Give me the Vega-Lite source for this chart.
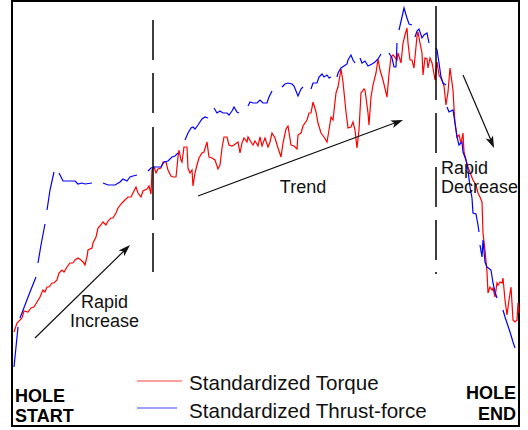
{
  "$schema": "https://vega.github.io/schema/vega-lite/v6.json",
  "width": 507,
  "height": 425,
  "autosize": {"type": "none"},
  "padding": {"left": 12, "top": 1, "right": 9, "bottom": 4},
  "background": "white",
  "config": {"view": {"stroke": "#000", "strokeWidth": 2}, "axis": {"disable": true}},
  "data": {"values": [
    {"s":"torque","g":0,"x":2,"y":94},{"s":"torque","g":0,"x":5,"y":103},{"s":"torque","g":0,"x":10,"y":108},{"s":"torque","g":0,"x":12,"y":115},{"s":"torque","g":0,"x":16,"y":114},{"s":"torque","g":0,"x":19,"y":118},{"s":"torque","g":0,"x":22,"y":119},{"s":"torque","g":0,"x":25,"y":124},{"s":"torque","g":0,"x":28,"y":129},{"s":"torque","g":0,"x":31,"y":136},{"s":"torque","g":0,"x":33,"y":134},{"s":"torque","g":0,"x":35,"y":139},{"s":"torque","g":0,"x":37,"y":139},{"s":"torque","g":0,"x":40,"y":143},{"s":"torque","g":0,"x":42,"y":143},{"s":"torque","g":0,"x":45,"y":146},{"s":"torque","g":0,"x":47,"y":153},{"s":"torque","g":0,"x":50,"y":156},{"s":"torque","g":0,"x":52,"y":154},{"s":"torque","g":0,"x":55,"y":159},{"s":"torque","g":0,"x":58,"y":163},{"s":"torque","g":0,"x":61,"y":163},{"s":"torque","g":0,"x":63,"y":166},{"s":"torque","g":0,"x":66,"y":168},{"s":"torque","g":0,"x":69,"y":166},{"s":"torque","g":0,"x":71,"y":164},{"s":"torque","g":0,"x":73,"y":161},{"s":"torque","g":0,"x":75,"y":169},{"s":"torque","g":0,"x":76,"y":176},{"s":"torque","g":0,"x":80,"y":178},{"s":"torque","g":0,"x":81,"y":183},{"s":"torque","g":0,"x":84,"y":189},{"s":"torque","g":0,"x":86,"y":198},{"s":"torque","g":0,"x":88,"y":200},{"s":"torque","g":0,"x":91,"y":204},{"s":"torque","g":0,"x":94,"y":201},{"s":"torque","g":0,"x":96,"y":205},{"s":"torque","g":0,"x":99,"y":208},{"s":"torque","g":0,"x":101,"y":208},{"s":"torque","g":0,"x":104,"y":213},{"s":"torque","g":0,"x":106,"y":218},{"s":"torque","g":0,"x":110,"y":223},{"s":"torque","g":0,"x":113,"y":226},{"s":"torque","g":0,"x":116,"y":229},{"s":"torque","g":0,"x":119,"y":229},{"s":"torque","g":0,"x":121,"y":233},{"s":"torque","g":0,"x":124,"y":239},{"s":"torque","g":0,"x":126,"y":233},{"s":"torque","g":0,"x":129,"y":229},{"s":"torque","g":0,"x":131,"y":235},{"s":"torque","g":0,"x":135,"y":237},{"s":"torque","g":0,"x":137,"y":240},{"s":"torque","g":0,"x":139,"y":232},{"s":"torque","g":0,"x":140,"y":256},{"s":"torque","g":0,"x":142,"y":259},{"s":"torque","g":0,"x":144,"y":253},{"s":"torque","g":0,"x":146,"y":257},{"s":"torque","g":0,"x":149,"y":258},{"s":"torque","g":0,"x":151,"y":264},{"s":"torque","g":0,"x":154,"y":264},{"s":"torque","g":0,"x":156,"y":256},{"s":"torque","g":0,"x":159,"y":250},{"s":"torque","g":0,"x":161,"y":249},{"s":"torque","g":0,"x":164,"y":249},{"s":"torque","g":0,"x":166,"y":269},{"s":"torque","g":0,"x":167,"y":276},{"s":"torque","g":0,"x":169,"y":266},{"s":"torque","g":0,"x":170,"y":264},{"s":"torque","g":0,"x":172,"y":279},{"s":"torque","g":0,"x":175,"y":279},{"s":"torque","g":0,"x":176,"y":258},{"s":"torque","g":0,"x":178,"y":253},{"s":"torque","g":0,"x":180,"y":256},{"s":"torque","g":0,"x":181,"y":240},{"s":"torque","g":0,"x":183,"y":253},{"s":"torque","g":0,"x":185,"y":261},{"s":"torque","g":0,"x":187,"y":268},{"s":"torque","g":0,"x":190,"y":273},{"s":"torque","g":0,"x":192,"y":274},{"s":"torque","g":0,"x":195,"y":284},{"s":"torque","g":0,"x":197,"y":269},{"s":"torque","g":0,"x":200,"y":268},{"s":"torque","g":0,"x":203,"y":266},{"s":"torque","g":0,"x":206,"y":257},{"s":"torque","g":0,"x":208,"y":261},{"s":"torque","g":0,"x":210,"y":278},{"s":"torque","g":0,"x":212,"y":289},{"s":"torque","g":0,"x":215,"y":289},{"s":"torque","g":0,"x":217,"y":281},{"s":"torque","g":0,"x":220,"y":280},{"s":"torque","g":0,"x":222,"y":281},{"s":"torque","g":0,"x":226,"y":284},{"s":"torque","g":0,"x":228,"y":273},{"s":"torque","g":0,"x":230,"y":283},{"s":"torque","g":0,"x":232,"y":288},{"s":"torque","g":0,"x":235,"y":284},{"s":"torque","g":0,"x":236,"y":289},{"s":"torque","g":0,"x":239,"y":284},{"s":"torque","g":0,"x":241,"y":281},{"s":"torque","g":0,"x":243,"y":285},{"s":"torque","g":0,"x":246,"y":280},{"s":"torque","g":0,"x":248,"y":289},{"s":"torque","g":0,"x":250,"y":280},{"s":"torque","g":0,"x":253,"y":288},{"s":"torque","g":0,"x":256,"y":279},{"s":"torque","g":0,"x":258,"y":284},{"s":"torque","g":0,"x":260,"y":293},{"s":"torque","g":0,"x":263,"y":288},{"s":"torque","g":0,"x":266,"y":278},{"s":"torque","g":0,"x":269,"y":269},{"s":"torque","g":0,"x":271,"y":283},{"s":"torque","g":0,"x":274,"y":297},{"s":"torque","g":0,"x":276,"y":300},{"s":"torque","g":0,"x":279,"y":281},{"s":"torque","g":0,"x":282,"y":280},{"s":"torque","g":0,"x":285,"y":277},{"s":"torque","g":0,"x":286,"y":291},{"s":"torque","g":0,"x":289,"y":293},{"s":"torque","g":0,"x":291,"y":300},{"s":"torque","g":0,"x":295,"y":306},{"s":"torque","g":0,"x":297,"y":313},{"s":"torque","g":0,"x":299,"y":313},{"s":"torque","g":0,"x":301,"y":324},{"s":"torque","g":0,"x":304,"y":314},{"s":"torque","g":0,"x":306,"y":303},{"s":"torque","g":0,"x":309,"y":293},{"s":"torque","g":0,"x":312,"y":289},{"s":"torque","g":0,"x":315,"y":284},{"s":"torque","g":0,"x":317,"y":296},{"s":"torque","g":0,"x":319,"y":309},{"s":"torque","g":0,"x":321,"y":306},{"s":"torque","g":0,"x":324,"y":333},{"s":"torque","g":0,"x":326,"y":339},{"s":"torque","g":0,"x":329,"y":357},{"s":"torque","g":0,"x":331,"y":344},{"s":"torque","g":0,"x":334,"y":314},{"s":"torque","g":0,"x":336,"y":298},{"s":"torque","g":0,"x":339,"y":299},{"s":"torque","g":0,"x":341,"y":304},{"s":"torque","g":0,"x":343,"y":296},{"s":"torque","g":0,"x":345,"y":278},{"s":"torque","g":0,"x":347,"y":296},{"s":"torque","g":0,"x":349,"y":333},{"s":"torque","g":0,"x":352,"y":337},{"s":"torque","g":0,"x":353,"y":336},{"s":"torque","g":0,"x":356,"y":313},{"s":"torque","g":0,"x":357,"y":301},{"s":"torque","g":0,"x":359,"y":329},{"s":"torque","g":0,"x":361,"y":341},{"s":"torque","g":0,"x":364,"y":353},{"s":"torque","g":0,"x":366,"y":367},{"s":"torque","g":0,"x":368,"y":356},{"s":"torque","g":0,"x":371,"y":346},{"s":"torque","g":0,"x":375,"y":329},{"s":"torque","g":0,"x":377,"y":352},{"s":"torque","g":0,"x":379,"y":369},{"s":"torque","g":0,"x":381,"y":371},{"s":"torque","g":0,"x":385,"y":366},{"s":"torque","g":0,"x":386,"y":373},{"s":"torque","g":0,"x":389,"y":363},{"s":"torque","g":0,"x":391,"y":383},{"s":"torque","g":0,"x":393,"y":391},{"s":"torque","g":0,"x":395,"y":398},{"s":"torque","g":0,"x":396,"y":383},{"s":"torque","g":0,"x":398,"y":366},{"s":"torque","g":0,"x":400,"y":366},{"s":"torque","g":0,"x":402,"y":358},{"s":"torque","g":0,"x":405,"y":390},{"s":"torque","g":0,"x":406,"y":394},{"s":"torque","g":0,"x":408,"y":383},{"s":"torque","g":0,"x":410,"y":373},{"s":"torque","g":0,"x":411,"y":351},{"s":"torque","g":0,"x":413,"y":368},{"s":"torque","g":0,"x":415,"y":367},{"s":"torque","g":0,"x":416,"y":358},{"s":"torque","g":0,"x":418,"y":368},{"s":"torque","g":0,"x":420,"y":363},{"s":"torque","g":0,"x":421,"y":358},{"s":"torque","g":0,"x":423,"y":346},{"s":"torque","g":0,"x":425,"y":364},{"s":"torque","g":0,"x":427,"y":351},{"s":"torque","g":0,"x":430,"y":346},{"s":"torque","g":0,"x":432,"y":340},{"s":"torque","g":0,"x":434,"y":321},{"s":"torque","g":0,"x":436,"y":334},{"s":"torque","g":0,"x":438,"y":358},{"s":"torque","g":0,"x":441,"y":336},{"s":"torque","g":0,"x":442,"y":318},{"s":"torque","g":0,"x":443,"y":303},{"s":"torque","g":0,"x":445,"y":289},{"s":"torque","g":0,"x":447,"y":291},{"s":"torque","g":0,"x":449,"y":283},{"s":"torque","g":0,"x":451,"y":293},{"s":"torque","g":0,"x":452,"y":274},{"s":"torque","g":0,"x":454,"y":266},{"s":"torque","g":0,"x":456,"y":259},{"s":"torque","g":0,"x":459,"y":251},{"s":"torque","g":0,"x":461,"y":246},{"s":"torque","g":0,"x":464,"y":241},{"s":"torque","g":0,"x":466,"y":233},{"s":"torque","g":0,"x":468,"y":229},{"s":"torque","g":0,"x":470,"y":224},{"s":"torque","g":0,"x":471,"y":193},{"s":"torque","g":0,"x":473,"y":176},{"s":"torque","g":0,"x":475,"y":154},{"s":"torque","g":0,"x":476,"y":133},{"s":"torque","g":0,"x":478,"y":139},{"s":"torque","g":0,"x":480,"y":136},{"s":"torque","g":0,"x":481,"y":138},{"s":"torque","g":0,"x":483,"y":129},{"s":"torque","g":0,"x":485,"y":143},{"s":"torque","g":0,"x":486,"y":141},{"s":"torque","g":0,"x":488,"y":144},{"s":"torque","g":0,"x":490,"y":143},{"s":"torque","g":0,"x":491,"y":148},{"s":"torque","g":0,"x":493,"y":126},{"s":"torque","g":0,"x":495,"y":111},{"s":"torque","g":0,"x":497,"y":126},{"s":"torque","g":0,"x":499,"y":139},{"s":"torque","g":0,"x":500,"y":123},{"s":"torque","g":0,"x":501,"y":106},{"s":"torque","g":0,"x":503,"y":104},{"s":"torque","g":0,"x":505,"y":106},{"s":"torque","g":0,"x":506,"y":123},{"s":"torque","g":0,"x":507,"y":113},
    {"s":"thrust","g":1,"x":2,"y":59},{"s":"thrust","g":1,"x":6,"y":99},
    {"s":"thrust","g":2,"x":8,"y":108},{"s":"thrust","g":2,"x":13,"y":121},{"s":"thrust","g":2,"x":18,"y":134},{"s":"thrust","g":2,"x":24,"y":149},
    {"s":"thrust","g":3,"x":26,"y":163},{"s":"thrust","g":3,"x":29,"y":181},{"s":"thrust","g":3,"x":33,"y":202},
    {"s":"thrust","g":4,"x":35,"y":216},{"s":"thrust","g":4,"x":38,"y":236},{"s":"thrust","g":4,"x":42,"y":254},
    {"s":"thrust","g":5,"x":47,"y":253},{"s":"thrust","g":5,"x":51,"y":245},{"s":"thrust","g":5,"x":58,"y":245},{"s":"thrust","g":5,"x":63,"y":245},{"s":"thrust","g":5,"x":66,"y":242},{"s":"thrust","g":5,"x":70,"y":243},{"s":"thrust","g":5,"x":73,"y":242},{"s":"thrust","g":5,"x":80,"y":243},
    {"s":"thrust","g":6,"x":91,"y":243},{"s":"thrust","g":6,"x":96,"y":241},{"s":"thrust","g":6,"x":103,"y":241},{"s":"thrust","g":6,"x":108,"y":244},{"s":"thrust","g":6,"x":111,"y":247},{"s":"thrust","g":6,"x":115,"y":245},{"s":"thrust","g":6,"x":118,"y":249},{"s":"thrust","g":6,"x":121,"y":250},{"s":"thrust","g":6,"x":125,"y":251},
    {"s":"thrust","g":7,"x":136,"y":255},{"s":"thrust","g":7,"x":139,"y":258},{"s":"thrust","g":7,"x":142,"y":259},{"s":"thrust","g":7,"x":146,"y":259},{"s":"thrust","g":7,"x":149,"y":259},{"s":"thrust","g":7,"x":152,"y":264},{"s":"thrust","g":7,"x":156,"y":265},{"s":"thrust","g":7,"x":160,"y":269},{"s":"thrust","g":7,"x":163,"y":270},{"s":"thrust","g":7,"x":166,"y":273},
    {"s":"thrust","g":8,"x":173,"y":286},{"s":"thrust","g":8,"x":176,"y":293},{"s":"thrust","g":8,"x":179,"y":298},{"s":"thrust","g":8,"x":181,"y":299},{"s":"thrust","g":8,"x":183,"y":297},{"s":"thrust","g":8,"x":186,"y":301},{"s":"thrust","g":8,"x":190,"y":307},{"s":"thrust","g":8,"x":193,"y":309},{"s":"thrust","g":8,"x":196,"y":308},
    {"s":"thrust","g":9,"x":202,"y":318},{"s":"thrust","g":9,"x":205,"y":313},{"s":"thrust","g":9,"x":208,"y":315},{"s":"thrust","g":9,"x":211,"y":313},{"s":"thrust","g":9,"x":215,"y":313},{"s":"thrust","g":9,"x":217,"y":311},{"s":"thrust","g":9,"x":220,"y":315},{"s":"thrust","g":9,"x":222,"y":319},{"s":"thrust","g":9,"x":225,"y":314},{"s":"thrust","g":9,"x":227,"y":313},
    {"s":"thrust","g":10,"x":236,"y":320},{"s":"thrust","g":10,"x":238,"y":324},{"s":"thrust","g":10,"x":241,"y":323},{"s":"thrust","g":10,"x":245,"y":323},{"s":"thrust","g":10,"x":248,"y":326},{"s":"thrust","g":10,"x":251,"y":323},{"s":"thrust","g":10,"x":255,"y":323},{"s":"thrust","g":10,"x":257,"y":329},{"s":"thrust","g":10,"x":260,"y":335},
    {"s":"thrust","g":11,"x":270,"y":339},{"s":"thrust","g":11,"x":273,"y":342},{"s":"thrust","g":11,"x":276,"y":343},{"s":"thrust","g":11,"x":280,"y":342},{"s":"thrust","g":11,"x":282,"y":340},{"s":"thrust","g":11,"x":286,"y":330},{"s":"thrust","g":11,"x":289,"y":337},{"s":"thrust","g":11,"x":291,"y":339},
    {"s":"thrust","g":12,"x":299,"y":337},{"s":"thrust","g":12,"x":301,"y":343},{"s":"thrust","g":12,"x":305,"y":343},{"s":"thrust","g":12,"x":307,"y":349},{"s":"thrust","g":12,"x":310,"y":352},{"s":"thrust","g":12,"x":312,"y":349},{"s":"thrust","g":12,"x":315,"y":351},{"s":"thrust","g":12,"x":317,"y":348},{"s":"thrust","g":12,"x":319,"y":349},
    {"s":"thrust","g":13,"x":325,"y":349},{"s":"thrust","g":13,"x":326,"y":353},{"s":"thrust","g":13,"x":329,"y":358},{"s":"thrust","g":13,"x":332,"y":360},{"s":"thrust","g":13,"x":335,"y":362},{"s":"thrust","g":13,"x":336,"y":366},{"s":"thrust","g":13,"x":339,"y":371},{"s":"thrust","g":13,"x":341,"y":366},{"s":"thrust","g":13,"x":343,"y":363},
    {"s":"thrust","g":14,"x":348,"y":368},{"s":"thrust","g":14,"x":350,"y":363},{"s":"thrust","g":14,"x":353,"y":365},{"s":"thrust","g":14,"x":356,"y":360},{"s":"thrust","g":14,"x":360,"y":362},{"s":"thrust","g":14,"x":363,"y":364},{"s":"thrust","g":14,"x":366,"y":367},{"s":"thrust","g":14,"x":369,"y":372},
    {"s":"thrust","g":15,"x":377,"y":373},{"s":"thrust","g":15,"x":380,"y":368},{"s":"thrust","g":15,"x":382,"y":359},{"s":"thrust","g":15,"x":384,"y":359},{"s":"thrust","g":15,"x":385,"y":383},
    {"s":"thrust","g":16,"x":387,"y":396},{"s":"thrust","g":16,"x":390,"y":409},{"s":"thrust","g":16,"x":392,"y":418},{"s":"thrust","g":16,"x":395,"y":408},{"s":"thrust","g":16,"x":397,"y":402},{"s":"thrust","g":16,"x":400,"y":401},
    {"s":"thrust","g":17,"x":403,"y":389},{"s":"thrust","g":17,"x":405,"y":395},{"s":"thrust","g":17,"x":407,"y":397},{"s":"thrust","g":17,"x":410,"y":388},{"s":"thrust","g":17,"x":412,"y":391},{"s":"thrust","g":17,"x":415,"y":393},{"s":"thrust","g":17,"x":417,"y":383},
    {"s":"thrust","g":18,"x":424,"y":378},{"s":"thrust","g":18,"x":425,"y":376},{"s":"thrust","g":18,"x":427,"y":363},{"s":"thrust","g":18,"x":429,"y":349},{"s":"thrust","g":18,"x":431,"y":343},{"s":"thrust","g":18,"x":434,"y":341},
    {"s":"thrust","g":19,"x":435,"y":319},{"s":"thrust","g":19,"x":437,"y":314},{"s":"thrust","g":19,"x":441,"y":316},{"s":"thrust","g":19,"x":443,"y":303},{"s":"thrust","g":19,"x":445,"y":289},{"s":"thrust","g":19,"x":447,"y":281},{"s":"thrust","g":19,"x":450,"y":284},{"s":"thrust","g":19,"x":451,"y":274},{"s":"thrust","g":19,"x":454,"y":266},{"s":"thrust","g":19,"x":456,"y":256},{"s":"thrust","g":19,"x":458,"y":239},{"s":"thrust","g":19,"x":460,"y":228},{"s":"thrust","g":19,"x":461,"y":213},{"s":"thrust","g":19,"x":464,"y":212},{"s":"thrust","g":19,"x":466,"y":201},{"s":"thrust","g":19,"x":467,"y":194},
    {"s":"thrust","g":20,"x":468,"y":181},{"s":"thrust","g":20,"x":470,"y":169},{"s":"thrust","g":20,"x":471,"y":186},{"s":"thrust","g":20,"x":473,"y":164},{"s":"thrust","g":20,"x":475,"y":159},{"s":"thrust","g":20,"x":479,"y":156},{"s":"thrust","g":20,"x":481,"y":143},{"s":"thrust","g":20,"x":483,"y":134},{"s":"thrust","g":20,"x":485,"y":128},
    {"s":"thrust","g":21,"x":491,"y":116},{"s":"thrust","g":21,"x":493,"y":109},{"s":"thrust","g":21,"x":495,"y":103},{"s":"thrust","g":21,"x":498,"y":94},{"s":"thrust","g":21,"x":501,"y":84},{"s":"thrust","g":21,"x":503,"y":78}
  ]},
  "layer": [
    {
      "mark": {"type": "line", "strokeWidth": 1.2, "interpolate": "linear"},
      "encoding": {
        "x": {"field": "x", "type": "quantitative", "scale": {"domain": [0, 507], "nice": false, "zero": false}, "axis": null},
        "y": {"field": "y", "type": "quantitative", "scale": {"domain": [0, 425], "nice": false, "zero": false}, "axis": null},
        "color": {"field": "s", "type": "nominal", "scale": {"domain": ["torque", "thrust"], "range": ["#ff0000", "#0000ff"]}, "legend": null},
        "detail": {"field": "g", "type": "nominal"},
        "order": {"field": "x", "type": "quantitative"}
      }
    },
    {
      "data": {"values": [{}]},
      "mark": {"type": "rule", "color": "#000", "strokeWidth": 1.5, "strokeDash": [40, 13, 40, 14, 93, 13, 39, 300]},
      "encoding": {"x": {"datum": 141}, "y": {"datum": 406}, "y2": {"datum": 154}}
    },
    {
      "data": {"values": [{}]},
      "mark": {"type": "rule", "color": "#000", "strokeWidth": 1.5, "strokeDash": [94, 13, 40, 14, 40, 13, 40, 12, 2, 300]},
      "encoding": {"x": {"datum": 424}, "y": {"datum": 420}, "y2": {"datum": 152}}
    },
    {
      "data": {"values": [{}]},
      "mark": {"type": "rule", "color": "#111", "strokeWidth": 1.2},
      "encoding": {"x": {"datum": 23}, "y": {"datum": 88}, "x2": {"datum": 116}, "y2": {"datum": 179}}
    },
    {
      "data": {"values": [{}]},
      "mark": {"type": "point", "shape": "M0,0 L0.4,1.2 L0,0.9 L-0.4,1.2 Z", "size": 400, "filled": true, "color": "#111", "opacity": 1, "strokeWidth": 0, "angle": 45.6},
      "encoding": {"x": {"datum": 118}, "y": {"datum": 181}}
    },
    {
      "data": {"values": [{}]},
      "mark": {"type": "rule", "color": "#111", "strokeWidth": 1.2},
      "encoding": {"x": {"datum": 186}, "y": {"datum": 230}, "x2": {"datum": 388}, "y2": {"datum": 305}}
    },
    {
      "data": {"values": [{}]},
      "mark": {"type": "point", "shape": "M0,0 L0.4,1.2 L0,0.9 L-0.4,1.2 Z", "size": 400, "filled": true, "color": "#111", "opacity": 1, "strokeWidth": 0, "angle": 69.3},
      "encoding": {"x": {"datum": 391}, "y": {"datum": 306}}
    },
    {
      "data": {"values": [{}]},
      "mark": {"type": "rule", "color": "#111", "strokeWidth": 1.2},
      "encoding": {"x": {"datum": 451}, "y": {"datum": 351}, "x2": {"datum": 481}, "y2": {"datum": 281}}
    },
    {
      "data": {"values": [{}]},
      "mark": {"type": "point", "shape": "M0,0 L0.4,1.2 L0,0.9 L-0.4,1.2 Z", "size": 400, "filled": true, "color": "#111", "opacity": 1, "strokeWidth": 0, "angle": 157},
      "encoding": {"x": {"datum": 482}, "y": {"datum": 278}}
    },
    {
      "data": {"values": [{}]},
      "mark": {"type": "text", "text": ["Rapid", "Increase"], "font": "Liberation Sans", "fontSize": 18, "lineHeight": 19, "align": "center", "baseline": "alphabetic", "color": "#111"},
      "encoding": {"x": {"datum": 92.5}, "y": {"datum": 118}}
    },
    {
      "data": {"values": [{}]},
      "mark": {"type": "text", "text": "Trend", "font": "Liberation Sans", "fontSize": 18, "align": "center", "baseline": "alphabetic", "color": "#111"},
      "encoding": {"x": {"datum": 291}, "y": {"datum": 233}}
    },
    {
      "data": {"values": [{}]},
      "mark": {"type": "text", "text": ["Rapid", "Decrease"], "font": "Liberation Sans", "fontSize": 18, "lineHeight": 19, "align": "left", "baseline": "alphabetic", "color": "#111"},
      "encoding": {"x": {"datum": 429}, "y": {"datum": 252}}
    },
    {
      "data": {"values": [{}]},
      "mark": {"type": "text", "text": ["HOLE", "START"], "font": "Liberation Sans", "fontWeight": "bold", "fontSize": 18, "lineHeight": 20, "align": "left", "baseline": "alphabetic", "color": "#000"},
      "encoding": {"x": {"datum": 3}, "y": {"datum": 24}}
    },
    {
      "data": {"values": [{}]},
      "mark": {"type": "text", "text": ["HOLE", "END"], "font": "Liberation Sans", "fontWeight": "bold", "fontSize": 18, "lineHeight": 21, "align": "right", "baseline": "alphabetic", "color": "#000"},
      "encoding": {"x": {"datum": 504}, "y": {"datum": 27}}
    },
    {
      "data": {"values": [{}]},
      "mark": {"type": "rule", "color": "#ff4040", "strokeWidth": 1.2},
      "encoding": {"x": {"datum": 125}, "x2": {"datum": 170}, "y": {"datum": 45}}
    },
    {
      "data": {"values": [{}]},
      "mark": {"type": "rule", "color": "#4040ff", "strokeWidth": 1.2},
      "encoding": {"x": {"datum": 125}, "x2": {"datum": 165}, "y": {"datum": 18}}
    },
    {
      "data": {"values": [{}]},
      "mark": {"type": "text", "text": "Standardized Torque", "font": "Liberation Sans", "fontSize": 20.6, "align": "left", "baseline": "alphabetic", "color": "#111"},
      "encoding": {"x": {"datum": 177}, "y": {"datum": 36}}
    },
    {
      "data": {"values": [{}]},
      "mark": {"type": "text", "text": "Standardized Thrust-force", "font": "Liberation Sans", "fontSize": 20.6, "align": "left", "baseline": "alphabetic", "color": "#111"},
      "encoding": {"x": {"datum": 177}, "y": {"datum": 8}}
    }
  ]
}
